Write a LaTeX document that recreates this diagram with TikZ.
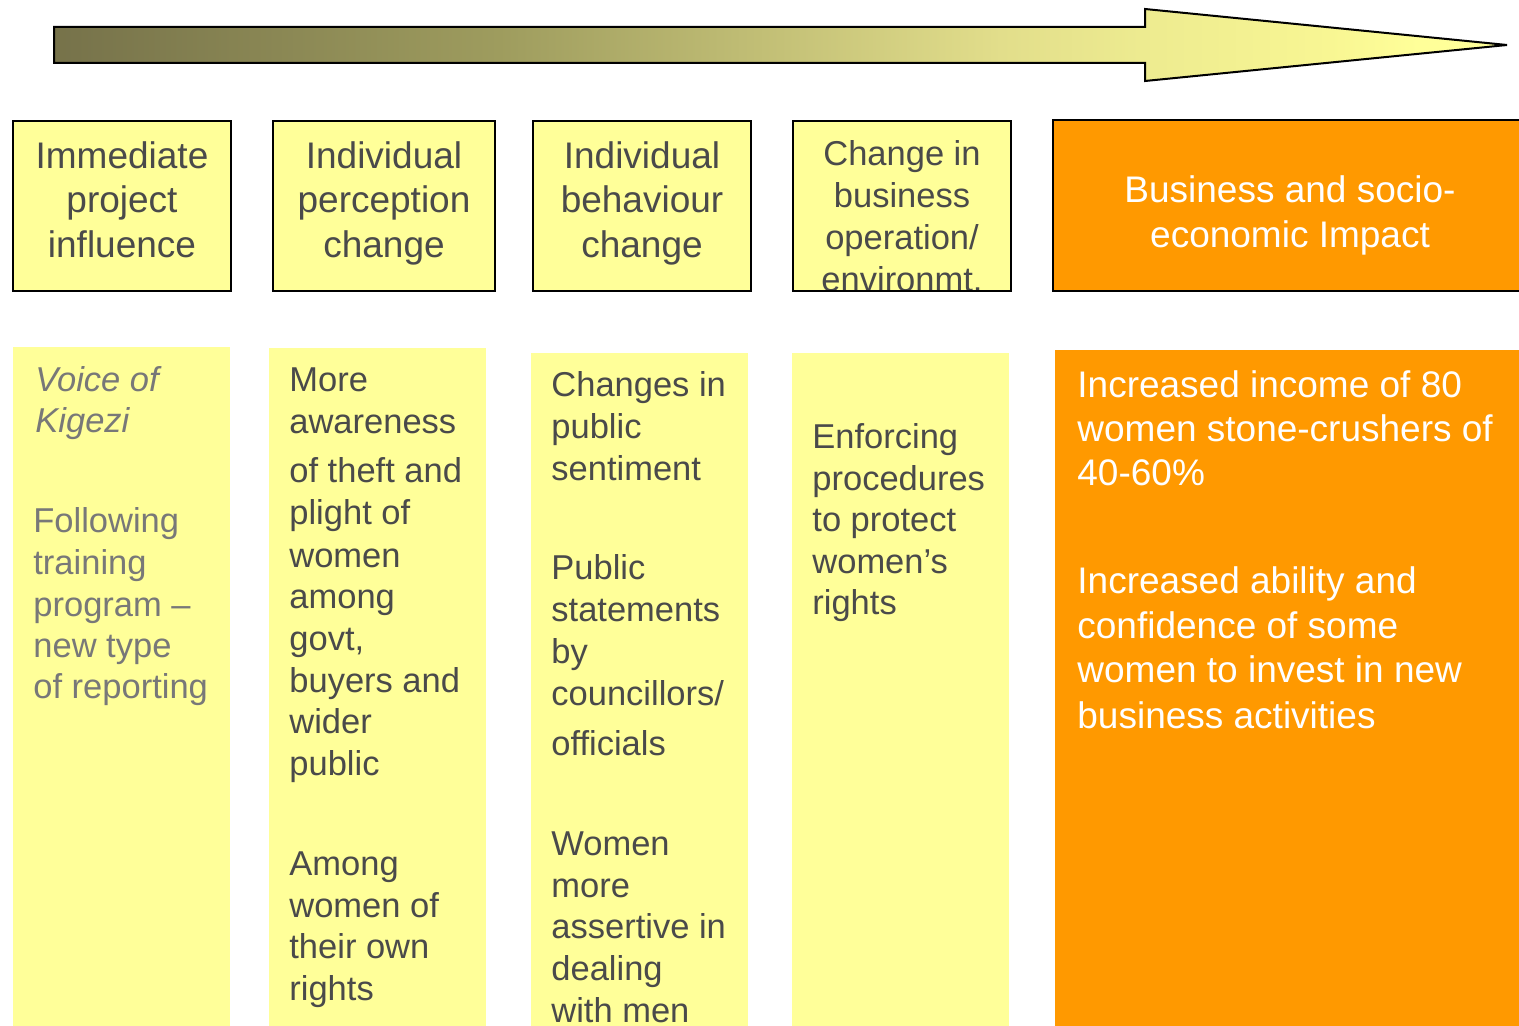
\documentclass[tikz,border=0pt]{standalone}
\usepackage{fontspec}
\setmainfont{Liberation Sans}
\definecolor{paleyellow}{HTML}{FFFF99}
\definecolor{impactorange}{HTML}{FF9900}
\definecolor{inkdark}{HTML}{4A4A4A}
\definecolor{inklight}{HTML}{787878}
\definecolor{olA}{HTML}{76724A}
\definecolor{olB}{HTML}{9E9C5E}
\definecolor{olC}{HTML}{E2DE8B}
\definecolor{olD}{HTML}{EDEB90}
\definecolor{olE}{HTML}{F8F693}
% fade of the progress arrow, olive at the tail to pale yellow at the tip
\pgfdeclarehorizontalshading{olivefade}{100bp}{color(0bp)=(olA); color(25bp)=(olA);
  color(40.3bp)=(olB); color(57.6bp)=(olC); color(62.4bp)=(olD); color(68.9bp)=(olE);
  color(72bp)=(paleyellow); color(100bp)=(paleyellow)}
\begin{document}
\begin{tikzpicture}[x=0.5pt,y=-0.5pt,
  frame/.style={draw=black, line width=1.2pt},
  big/.style={font=\fontsize{18.5pt}{22pt}\selectfont},
  small/.style={font=\fontsize{17.25pt}{21pt}\selectfont},
  hd/.style={big, text=inkdark, anchor=base, inner sep=0pt},
  hdsmall/.style={small, text=inkdark, anchor=base, inner sep=0pt},
  hdwhite/.style={big, text=white, anchor=base, inner sep=0pt},
  body/.style={small, text=inkdark, anchor=base west, inner sep=0pt},
  bodylight/.style={small, text=inklight, anchor=base west, inner sep=0pt},
  bodyital/.style={font=\fontsize{17.25pt}{21pt}\selectfont\itshape, text=inklight, anchor=base west, inner sep=0pt},
  bodywhite/.style={big, text=white, anchor=base west, inner sep=0pt}]
\useasboundingbox (0,0) rectangle (1519,1026);
\clip (0,0) rectangle (1519,1026);

% progress arrow
\path[shading=olivefade, draw=black, line width=1pt, line join=miter]
  (54,27) -- (1145,27) -- (1145,9) -- (1507,45) -- (1145,81) -- (1145,63) -- (54,63) -- cycle;

% header boxes
\fill[paleyellow] (13,121) rectangle (231,291);
\fill[paleyellow] (273,121) rectangle (495,291);
\fill[paleyellow] (533,121) rectangle (751,291);
\fill[paleyellow] (793,121) rectangle (1011,291);
\fill[impactorange] (1053,120) rectangle (1540,291);

\foreach \yy/\txt [count=\k] in {169/Immediate, 213/project, 258/influence}
  \node[hd] (ha\k) at (122,\yy) {\txt};
\foreach \yy/\txt [count=\k] in {169/Individual, 213/perception, 258/change}
  \node[hd] (hb\k) at (384,\yy) {\txt};
\foreach \yy/\txt [count=\k] in {169/Individual, 213/behaviour, 258/change}
  \node[hd] (hc\k) at (642,\yy) {\txt};
\begin{scope}
  \clip (793,121) rectangle (1011,291);
  \foreach \yy/\txt [count=\k] in {166/Change in, 208/business, 250/{operation/}, 292/environmt.}
    \node[hdsmall] (hd\k) at (902,\yy) {\txt};
\end{scope}
\node[hdwhite] (he1) at (1290,203) {Business and socio-};
\node[hdwhite] (he2) at (1290,248) {economic Impact};

\draw[frame] (13,121) rectangle (231,291);
\draw[frame] (273,121) rectangle (495,291);
\draw[frame] (533,121) rectangle (751,291);
\draw[frame] (793,121) rectangle (1011,291);
\draw[frame] (1053,120) rectangle (1540,291);

% detail columns
\fill[paleyellow] (13,347) rectangle (230,1030);
\fill[paleyellow] (269,348) rectangle (486,1030);
\fill[paleyellow] (531,353) rectangle (748,1030);
\fill[paleyellow] (792,353) rectangle (1009,1030);
\fill[impactorange] (1055,350) rectangle (1540,1030);

\foreach \yy/\txt [count=\k] in {391/Voice of, 432/Kigezi}
  \node[bodyital] (va\k) at (35,\yy) {\txt};
\foreach \yy/\txt [count=\k] in {532/Following, 574/training, 616/program –, 657/new type, 698/of reporting}
  \node[bodylight] (ta\k) at (33,\yy) {\txt};

\foreach \yy/\txt [count=\k] in {392/More, 433/awareness, 482/of theft and, 524/plight of,
    567/women, 608/among, 650/{govt,}, 692/buyers and, 733/wider, 775/public,
    875/Among, 917/women of, 958/their own, 1000/rights}
  \node[body] (tb\k) at (289,\yy) {\txt};

\foreach \yy/\txt [count=\k] in {396/Changes in, 438/public, 480/sentiment,
    579/Public, 621/statements, 663/by, 705/{councillors/}, 755/officials,
    855/Women, 897/more, 938/assertive in, 980/dealing, 1022/with men}
  \node[body] (tc\k) at (551,\yy) {\txt};

\foreach \yy/\txt [count=\k] in {448/Enforcing, 490/procedures, 531/to protect, 573/women’s, 614/rights}
  \node[body] (td\k) at (812,\yy) {\txt};

\foreach \yy/\txt [count=\k] in {397/Increased income of 80, 441/women stone-crushers of, 485/40-60\%,
    593/Increased ability and, 638/confidence of some, 682/women to invest in new, 728/business activities}
  \node[bodywhite] (te\k) at (1077,\yy) {\txt};
\end{tikzpicture}
\end{document}
